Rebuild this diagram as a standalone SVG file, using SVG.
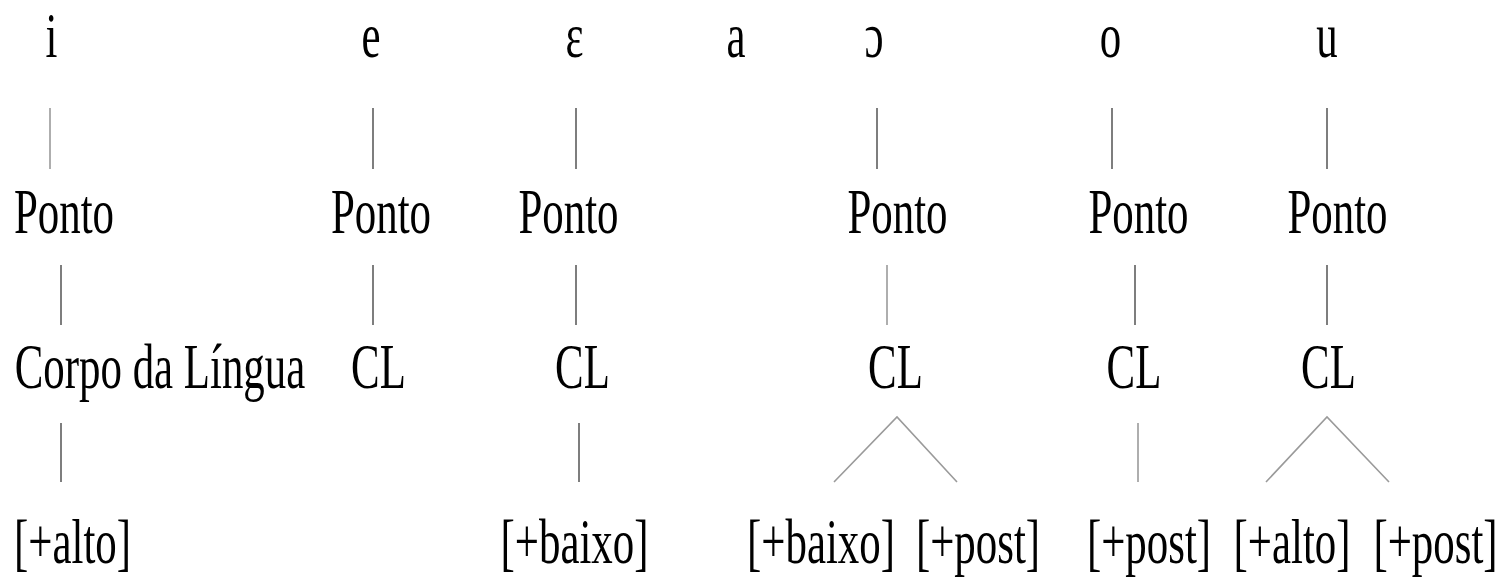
<svg xmlns="http://www.w3.org/2000/svg" width="1507" height="577" viewBox="0 0 1507 577">
  <style>
    text { font-family: "Liberation Serif", "DejaVu Serif", serif; font-size: 64px; fill: #000; text-anchor: middle; }
    .ln { stroke: #5e5e5e; stroke-width: 1.6; fill: none; }
    .lt { stroke: #9a9a9a; stroke-width: 1.6; fill: none; }
  </style>
  <rect width="1507" height="577" fill="#fff"/>

  <!-- vowels -->
  <g id="v-i"><text transform="translate(51.5,57) scale(0.67,1)">i</text></g>
  <g id="v-e"><text transform="translate(371,57) scale(0.67,1)">e</text></g>
  <g id="v-eps"><text transform="translate(574.5,57) scale(0.67,1)">ɛ</text></g>
  <g id="v-a"><text transform="translate(736,57) scale(0.67,1)">a</text></g>
  <g id="v-oo"><text transform="translate(874,57) scale(0.67,1)">ɔ</text></g>
  <g id="v-o"><text transform="translate(1110.5,57) scale(0.67,1)">o</text></g>
  <g id="v-u"><text transform="translate(1327,57) scale(0.67,1)">u</text></g>

  <!-- Ponto -->
  <g id="p-i"><text transform="translate(64,233) scale(0.67,1)">Ponto</text></g>
  <g id="p-e"><text transform="translate(381,233) scale(0.67,1)">Ponto</text></g>
  <g id="p-eps"><text transform="translate(568.5,233) scale(0.67,1)">Ponto</text></g>
  <g id="p-oo"><text transform="translate(897.5,233) scale(0.67,1)">Ponto</text></g>
  <g id="p-o"><text transform="translate(1138.5,233) scale(0.67,1)">Ponto</text></g>
  <g id="p-u"><text transform="translate(1337.5,233) scale(0.67,1)">Ponto</text></g>

  <!-- Corpo da Língua / CL -->
  <g id="cl-i"><text transform="translate(160,388) scale(0.67,1)">Corpo da Língua</text></g>
  <g id="cl-e"><text transform="translate(378.5,388) scale(0.67,1)">CL</text></g>
  <g id="cl-eps"><text transform="translate(582.5,388) scale(0.67,1)">CL</text></g>
  <g id="cl-oo"><text transform="translate(895.5,388) scale(0.67,1)">CL</text></g>
  <g id="cl-o"><text transform="translate(1134,388) scale(0.67,1)">CL</text></g>
  <g id="cl-u"><text transform="translate(1328.5,388) scale(0.67,1)">CL</text></g>

  <!-- features -->
  <g id="f-i-alto"><text transform="translate(72.5,563) scale(0.67,1)">[+alto]</text></g>
  <g id="f-eps-baixo"><text transform="translate(574.5,563) scale(0.67,1)">[+baixo]</text></g>
  <g id="f-oo-baixo"><text transform="translate(821,563) scale(0.67,1)">[+baixo]</text></g>
  <g id="f-oo-post"><text transform="translate(978,563) scale(0.67,1)">[+post]</text></g>
  <g id="f-o-post"><text transform="translate(1149,563) scale(0.67,1)">[+post]</text></g>
  <g id="f-u-alto"><text transform="translate(1292,563) scale(0.67,1)">[+alto]</text></g>
  <g id="f-u-post"><text transform="translate(1435.5,563) scale(0.67,1)">[+post]</text></g>

  <g id="connectors">
    <!-- vowel to Ponto -->
    <line class="lt" x1="50" y1="108" x2="50" y2="169"/>
    <line class="ln" x1="373" y1="108" x2="373" y2="169"/>
    <line class="ln" x1="576" y1="108" x2="576" y2="169"/>
    <line class="ln" x1="877" y1="108" x2="877" y2="169"/>
    <line class="ln" x1="1112" y1="108" x2="1112" y2="169"/>
    <line class="ln" x1="1327" y1="108" x2="1327" y2="169"/>
    <!-- Ponto to CL -->
    <line class="ln" x1="61" y1="265" x2="61" y2="325"/>
    <line class="ln" x1="373" y1="265" x2="373" y2="325"/>
    <line class="ln" x1="576" y1="265" x2="576" y2="325"/>
    <line class="lt" x1="887" y1="265" x2="887" y2="325"/>
    <line class="ln" x1="1135" y1="265" x2="1135" y2="325"/>
    <line class="ln" x1="1327" y1="265" x2="1327" y2="325"/>
    <!-- CL to features -->
    <line class="ln" x1="61" y1="423" x2="61" y2="482"/>
    <line class="ln" x1="579" y1="423" x2="579" y2="482"/>
    <line class="lt" x1="1138" y1="423" x2="1138" y2="482"/>
    <polyline class="lt" points="834,482 897,417 957,482"/>
    <polyline class="lt" points="1266,482 1327,417 1389,482"/>
  </g>
</svg>
